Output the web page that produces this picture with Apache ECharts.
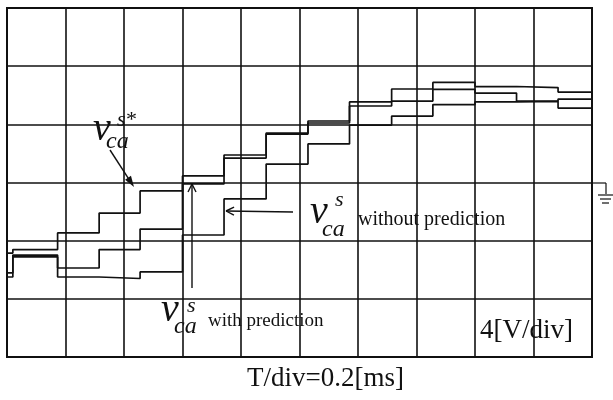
<!DOCTYPE html>
<html><head><meta charset="utf-8">
<script src="https://cdn.jsdelivr.net/npm/echarts@6/dist/echarts.min.js"></script>
<style>html,body{margin:0;padding:0;background:#fff}#c{width:613px;height:400px}</style>
</head><body><div id="c"></div>
<script>
// time (ms) at which each step begins; T/div = 0.2 ms, 10 divisions
const stepTimes = [0, 0.02, 0.173, 0.315, 0.455, 0.6, 0.742, 0.886, 1.029, 1.171, 1.315, 1.456, 1.6, 1.742, 1.884, 2.0];
// voltage levels (V) of each step segment, 4 V/div
const refLevels         = [-4.85, -4.61, -3.47, -2.10, -0.58, 0.45, 1.89, 3.40, 4.23, 5.54, 6.43, 6.88, 6.60, 6.53, 6.22];
const withPredLevels    = [-6.22, -4.99, -5.88, -4.61, -3.20, -0.10, 1.68, 3.33, 4.09, 5.26, 5.60, 6.40, 6.15, 5.60, 5.74];
const withoutPredLevels = [-6.50, -5.12, -6.50, -6.60, -6.15, -3.61, -1.13, 1.27, 2.65, 3.95, 4.57, 5.36, 5.54, 5.57, 5.12];
const timeRange = [0, 2.0];      // ms
const voltRange = [-12, 12];     // V
const timeDiv = 0.2;
const voltDiv = 4;

function stepData(levels){
  const d = levels.map((v,i)=>[stepTimes[i], v]);
  d.push([stepTimes[stepTimes.length-1], levels[levels.length-1]]);
  return d;
}
const INK = '#111';
const SERIF = '"Liberation Serif", "Times New Roman", serif';

function txt(text, x, y, size, italic){
  return {type:'text', z:10, style:{text:text, x:x, y:y, fill:INK,
    font:(italic?'italic ':'')+size+'px '+SERIF, verticalAlign:'middle', align:'left'}};
}
function line(x1,y1,x2,y2,w){
  return {type:'line', z:10, shape:{x1:x1,y1:y1,x2:x2,y2:y2}, style:{stroke:INK, lineWidth:w||1.4}};
}
function arrowFilled(x1,y1,x2,y2){
  const dx=x2-x1, dy=y2-y1, L=Math.hypot(dx,dy), ux=dx/L, uy=dy/L, px=-uy, py=ux;
  const bx=x2-11*ux, by=y2-11*uy;
  return [line(x1,y1,bx+ux*3,by+uy*3,1.4),
    {type:'polygon', z:10, shape:{points:[[x2,y2],[bx+3.5*px,by+3.5*py],[bx-3.5*px,by-3.5*py]]}, style:{fill:INK}}];
}
function arrowOpen(x1,y1,x2,y2){
  const dx=x2-x1, dy=y2-y1, L=Math.hypot(dx,dy), ux=dx/L, uy=dy/L, px=-uy, py=ux;
  const bx=x2-8*ux, by=y2-8*uy;
  return [line(x1,y1,x2,y2,1.4), line(x2,y2,bx+4*px,by+4*py,1.4), line(x2,y2,bx-4*px,by-4*py,1.4)];
}

const chart = echarts.init(document.getElementById('c'), null, {renderer:'canvas'});
const seriesStyle = {type:'line', step:'end', symbol:'none', animation:false, lineStyle:{color:INK, width:1.7}, z:5};

const graphics = [
  // v_ca^s* label
  txt('v', 93, 129, 40, true), txt('s', 117, 120, 22, true), txt('*', 126, 120, 22, false), txt('ca', 106, 142, 24, true),
  ...arrowFilled(110,150,134,187),
  // v_ca^s without prediction
  txt('v', 310, 212, 40, true), txt('s', 335, 200, 22, true), txt('ca', 322, 230, 24, true),
  txt('without prediction', 358, 220, 20, false),
  ...arrowOpen(293,212,226,211),
  // v_ca^s with prediction
  txt('v', 161, 310, 40, true), txt('s', 187, 306, 22, true), txt('ca', 174, 327, 24, true),
  txt('with prediction', 208, 321, 19, false),
  ...arrowOpen(192,288,192,184),
  // scale texts
  txt('4[V/div]', 480, 331, 27, false),
  txt('T/div=0.2[ms]', 247, 379, 27, false),
  // ground marker
  line(592,183,606,183,1.2), line(606,183,606,194,1.2),
  line(598,195,613,195,1.2), line(600,199,611,199,1.2), line(602,203,609,203,1.2)
];

chart.setOption({
  backgroundColor:'#fff',
  animation:false,
  grid:{left:7, top:8, width:585, height:349, show:true, borderColor:INK, borderWidth:2, backgroundColor:'transparent'},
  xAxis:{type:'value', min:timeRange[0], max:timeRange[1], interval:timeDiv,
    axisLabel:{show:false}, axisTick:{show:false}, axisLine:{show:false},
    splitLine:{show:true, lineStyle:{color:INK, width:1.6}}},
  yAxis:{type:'value', min:voltRange[0], max:voltRange[1], interval:voltDiv,
    axisLabel:{show:false}, axisTick:{show:false}, axisLine:{show:false},
    splitLine:{show:true, lineStyle:{color:INK, width:1.6}}},
  series:[
    Object.assign({name:'v_ca^s*', data:stepData(refLevels)}, seriesStyle),
    Object.assign({name:'with prediction', data:stepData(withPredLevels)}, seriesStyle),
    Object.assign({name:'without prediction', data:stepData(withoutPredLevels)}, seriesStyle)
  ],
  graphic:graphics
});
</script></body></html>
